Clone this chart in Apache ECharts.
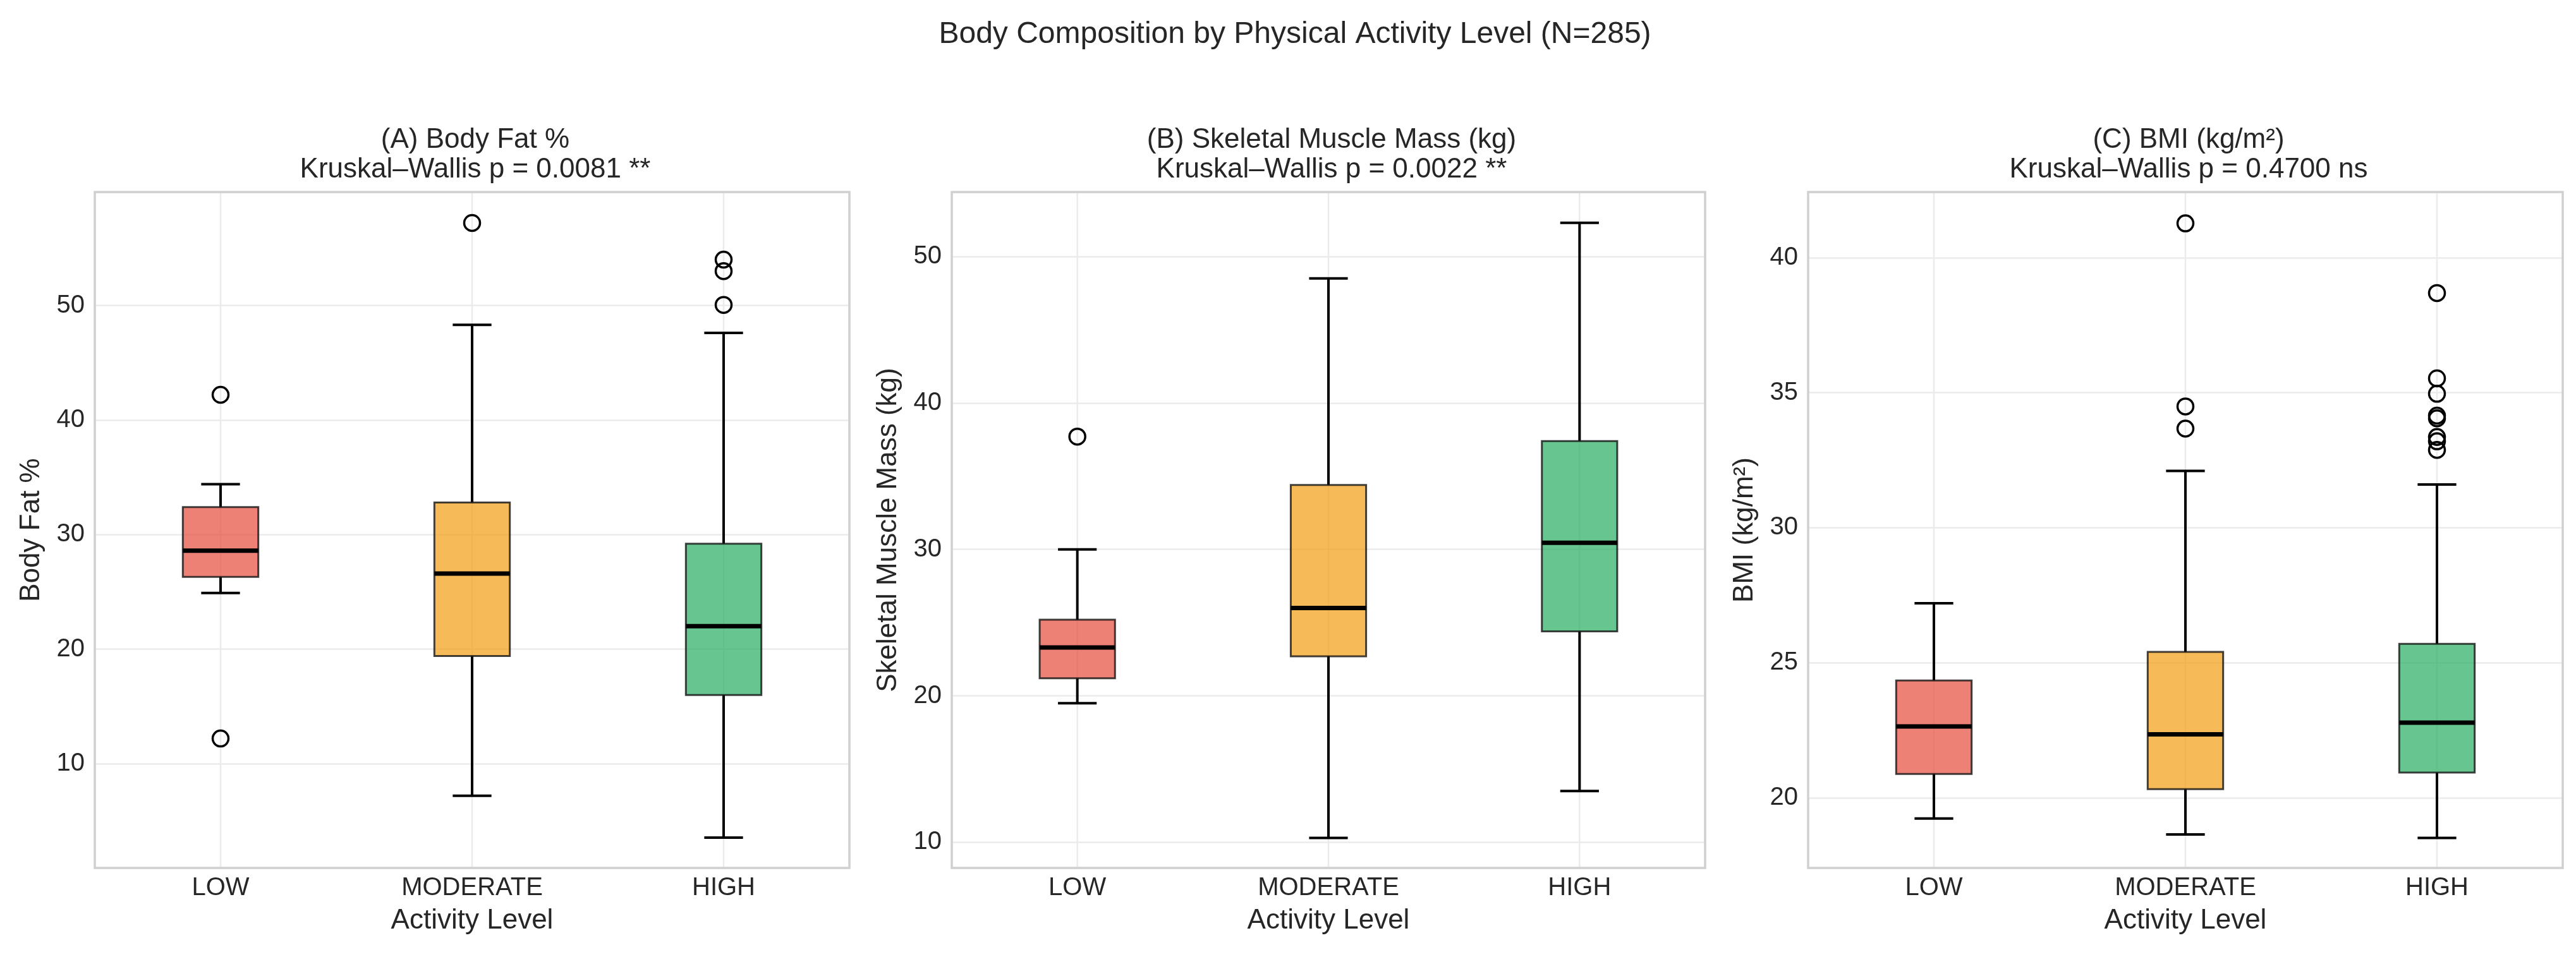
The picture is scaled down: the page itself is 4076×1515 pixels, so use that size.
<!DOCTYPE html>
<html>
<head>
<meta charset="utf-8">
<title>Body Composition by Physical Activity Level</title>
<script src="https://cdn.jsdelivr.net/npm/echarts@6/dist/echarts.min.js"></script>
<style>
  html, body { margin: 0; padding: 0; background: #fff; }
  #chart { width: 4076px; height: 1515px; }
</style>
</head>
<body>
<div id="chart"></div>
<script>
// categories on the x axis
var categories = ['LOW', 'MODERATE', 'HIGH'];

// box stats per category: [lower whisker, Q1, median, Q3, upper whisker]
var fatBoxes = [
  [24.9, 26.3, 28.6, 32.4, 34.4],
  [7.2, 19.4, 26.6, 32.8, 48.3],
  [3.55, 16.0, 22.0, 29.2, 47.6]
];
var muscleBoxes = [
  [19.5, 21.2, 23.3, 25.2, 30.0],
  [10.3, 22.7, 26.0, 34.4, 48.5],
  [13.5, 24.4, 30.45, 37.4, 52.3]
];
var bmiBoxes = [
  [19.23, 20.88, 22.64, 24.34, 27.2],
  [18.64, 20.32, 22.35, 25.4, 32.1],
  [18.51, 20.93, 22.78, 25.7, 31.6]
];

// outliers: [category index, value]
var fatOutliers = [[0, 42.2], [0, 12.2], [1, 57.2], [2, 54.0], [2, 53.0], [2, 50.05]];
var muscleOutliers = [[0, 37.7]];
var bmiOutliers = [
  [1, 41.27], [1, 34.49], [1, 33.67],
  [2, 38.69], [2, 35.53], [2, 34.96], [2, 34.15], [2, 34.05], [2, 33.36], [2, 33.2], [2, 32.88]
];

var panelTitles = ['(A) Body Fat %', '(B) Skeletal Muscle Mass (kg)', '(C) BMI (kg/m\u00b2)'];
var panelTests = ['Kruskal\u2013Wallis p = 0.0081 **', 'Kruskal\u2013Wallis p = 0.0022 **', 'Kruskal\u2013Wallis p = 0.4700 ns'];
var yNames = ['Body Fat %', 'Skeletal Muscle Mass (kg)', 'BMI (kg/m\u00b2)'];
var yRanges = [[0.9, 59.9], [8.25, 54.4], [17.4, 42.43]];

var boxColors = ['rgba(231,76,60,0.7)', 'rgba(243,156,18,0.7)', 'rgba(39,174,96,0.7)'];

var FONT = '"Liberation Sans", Arial, sans-serif';
var TXT = '#262626';
var W = 4076, H = 1515;
// plot frames (left, width) and shared top/bottom
var frames = [[150, 1194], [1506, 1192], [2861, 1194]];
var TOP = 304, BOTTOM = 1374;

var chart = echarts.init(document.getElementById('chart'));

function renderBox(params, api) {
  var i = api.value(0);
  var c = params.coordSys;
  var band = api.size([1, 0])[0];
  var lo = api.coord([i, api.value(1)]);
  var q1 = api.coord([i, api.value(2)]);
  var md = api.coord([i, api.value(3)]);
  var q3 = api.coord([i, api.value(4)]);
  var hi = api.coord([i, api.value(5)]);
  var x = lo[0], hw = band * 0.15, cw = band * 0.077;
  var k = { stroke: '#000', lineWidth: 4 };
  return {
    type: 'group',
    children: [
      { type: 'line', silent: true, shape: { x1: x, y1: c.y, x2: x, y2: c.y + c.height }, style: { stroke: '#ebebeb', lineWidth: 2.5 } },
      { type: 'line', shape: { x1: x, y1: lo[1], x2: x, y2: q1[1] }, style: k },
      { type: 'line', shape: { x1: x, y1: q3[1], x2: x, y2: hi[1] }, style: k },
      { type: 'line', shape: { x1: x - cw, y1: lo[1], x2: x + cw, y2: lo[1] }, style: k },
      { type: 'line', shape: { x1: x - cw, y1: hi[1], x2: x + cw, y2: hi[1] }, style: k },
      { type: 'rect', shape: { x: x - hw, y: q3[1], width: hw * 2, height: q1[1] - q3[1] },
        style: { fill: boxColors[i], stroke: 'rgba(20,20,20,0.8)', lineWidth: 3 } },
      { type: 'line', shape: { x1: x - hw, y1: md[1], x2: x + hw, y2: md[1] }, style: { stroke: '#000', lineWidth: 7 } }
    ]
  };
}

var allBoxes = [fatBoxes, muscleBoxes, bmiBoxes];
var allOutliers = [fatOutliers, muscleOutliers, bmiOutliers];

var grids = [], xAxes = [], yAxes = [], series = [], titles = [], frameShapes = [];

titles.push({
  text: 'Body Composition by Physical Activity Level (N=285)',
  left: 2044, top: 26, textAlign: 'center',
  textStyle: { fontFamily: FONT, fontSize: 48, fontWeight: 'normal', color: TXT, lineHeight: 48 }
});

frames.forEach(function (f, p) {
  grids.push({ left: f[0], top: TOP, width: f[1], height: BOTTOM - TOP, show: true, backgroundColor: '#fff', borderWidth: 0 });
  titles.push({
    text: panelTitles[p] + '\n' + panelTests[p],
    left: f[0] + f[1] / 2, top: 193, textAlign: 'center',
    textStyle: { fontFamily: FONT, fontSize: 44, fontWeight: 'normal', color: TXT, lineHeight: 47 }
  });
  xAxes.push({
    type: 'category', gridIndex: p, data: categories,
    name: 'Activity Level', nameLocation: 'middle', nameGap: 62,
    nameTextStyle: { fontFamily: FONT, fontSize: 44, color: TXT },
    axisLine: { show: false }, axisTick: { show: false }, splitLine: { show: false },
    axisLabel: { fontFamily: FONT, fontSize: 40, color: TXT, margin: 12 }
  });
  yAxes.push({
    type: 'value', gridIndex: p, min: yRanges[p][0], max: yRanges[p][1],
    name: yNames[p], nameLocation: 'middle', nameGap: 78,
    nameTextStyle: { fontFamily: FONT, fontSize: 44, color: TXT },
    axisLine: { show: false }, axisTick: { show: false },
    splitLine: { lineStyle: { color: '#ebebeb', width: 2.5 } },
    axisLabel: {
      fontFamily: FONT, fontSize: 40, color: TXT, margin: 16,
      formatter: function (v) { return (Math.abs(v % 5) < 1e-9) ? String(v) : ''; }
    }
  });
  series.push({
    type: 'custom', xAxisIndex: p, yAxisIndex: p,
    renderItem: renderBox,
    encode: { x: 0, y: [1, 2, 3, 4, 5] },
    data: allBoxes[p].map(function (b, i) { return [i].concat(b); }),
    z: 2
  });
  series.push({
    type: 'scatter', xAxisIndex: p, yAxisIndex: p,
    data: allOutliers[p],
    symbol: 'circle', symbolSize: 25,
    itemStyle: { color: 'rgba(255,255,255,0)', borderColor: '#000', borderWidth: 3.5, opacity: 1 },
    z: 3
  });
  frameShapes.push({
    type: 'rect', silent: true, z: 50,
    shape: { x: f[0], y: TOP, width: f[1], height: BOTTOM - TOP },
    style: { fill: 'none', stroke: '#d0d0d0', lineWidth: 3.5 }
  });
});

chart.setOption({
  backgroundColor: '#fff',
  animation: false,
  title: titles,
  grid: grids,
  xAxis: xAxes,
  yAxis: yAxes,
  series: series,
  graphic: frameShapes
});
</script>
</body>
</html>
